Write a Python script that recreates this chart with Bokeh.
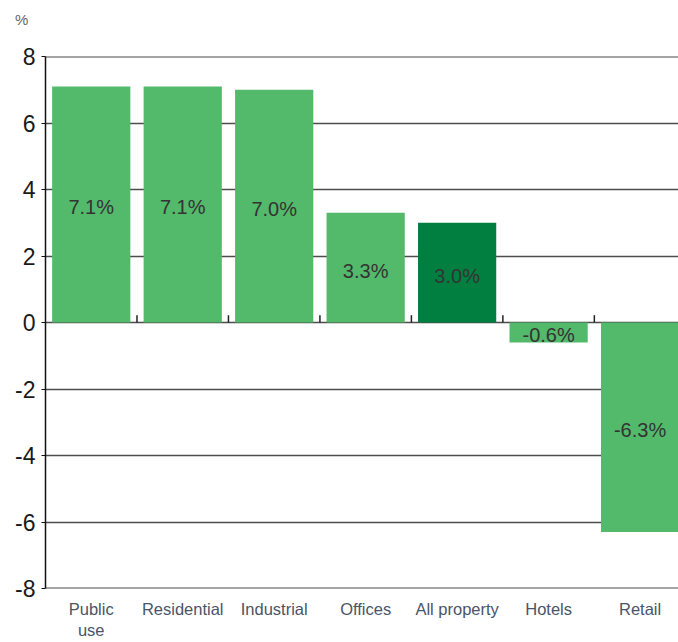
from bokeh.plotting import figure
from bokeh.models import FixedTicker, Span, ColumnDataSource, Div
from bokeh.layouts import column
from bokeh.embed import file_html
from bokeh.resources import INLINE
from bokeh.core.properties import value

# Annual change by property sector, %
categories = ["Public\nuse", "Residential", "Industrial", "Offices", "All property", "Hotels", "Retail"]
growth = [7.1, 7.1, 7.0, 3.3, 3.0, -0.6, -6.3]
highlight = "All property"
y_ticks = [-8, -6, -4, -2, 0, 2, 4, 6, 8]

FONT = "Liberation Sans"
LIGHT = "#53b96b"
DARK = "#007f41"

xs = list(range(len(categories)))
source = ColumnDataSource(dict(
    x=xs,
    top=growth,
    mid=[v / 2 for v in growth],
    label=[f"{v:.1f}%" for v in growth],
    color=[DARK if c == highlight else LIGHT for c in categories],
))

# unit caption above the y axis
unit = Div(text="%", width=60, height=21, margin=(11, 0, 0, 15),
           styles={"font-family": FONT, "font-size": "15px", "color": "#666666",
                   "line-height": "17px"})

p = figure(
    width=678, height=610,
    x_range=(-0.5, len(categories) - 0.58), y_range=(y_ticks[0], y_ticks[-1]),
    output_backend="svg", toolbar_location=None,
    min_border_left=45, min_border_top=24, min_border_bottom=54, min_border_right=0,
    margin=(0, 0, 0, 0),
)
p.outline_line_color = None
p.background_fill_color = "white"
p.border_fill_color = "white"

# horizontal gridlines, with heavier rules at the top and bottom of the scale
p.xgrid.visible = False
p.ygrid.ticker = FixedTicker(ticks=y_ticks[1:-1])
p.ygrid.grid_line_color = "#4d4d4d"
p.ygrid.grid_line_width = 1.7
for edge in (y_ticks[0], y_ticks[-1]):
    p.add_layout(Span(location=edge, dimension="width", line_color="#4d4d4d",
                      line_width=2.2, level="underlay"))

# bars
p.vbar(x="x", top="top", bottom=0, width=0.855, fill_color="color",
       line_color=None, source=source)

# small ticks on the zero line between categories
bounds = [i + 0.5 for i in xs[:-1]]
p.segment(x0=bounds, y0=[0] * len(bounds), x1=bounds, y1=[0.22] * len(bounds),
          line_color="#222222", line_width=1.5)

# value labels inside the bars
p.text(x="x", y="mid", text="label", source=source,
       text_align="center", text_baseline="middle", y_offset=3,
       text_font=value(FONT), text_font_size="20px", text_color="#333333")

# y axis (plain hyphen for negative numbers)
p.yaxis.ticker = FixedTicker(ticks=y_ticks)
p.yaxis.major_label_overrides = {t: str(t) for t in y_ticks}
p.yaxis.axis_line_color = "#111111"
p.yaxis.axis_line_width = 1.5
p.yaxis.major_tick_in = 0
p.yaxis.major_tick_out = 4
p.yaxis.major_tick_line_color = "#111111"
p.yaxis.minor_tick_line_color = None
p.yaxis.major_label_text_font = FONT
p.yaxis.major_label_text_font_size = "23px"
p.yaxis.major_label_text_color = "#1a1a1a"
p.yaxis.major_label_standoff = 6

# x axis with category names
p.xaxis.ticker = FixedTicker(ticks=xs)
p.xaxis.major_label_overrides = {i: c for i, c in zip(xs, categories)}
p.xaxis.axis_line_color = None
p.xaxis.major_tick_line_color = None
p.xaxis.minor_tick_line_color = None
p.xaxis.major_tick_out = 0
p.xaxis.major_label_text_font = FONT
p.xaxis.major_label_text_font_size = "16.5px"
p.xaxis.major_label_text_color = "#4a5468"
p.xaxis.major_label_standoff = 11

layout = column(unit, p, spacing=0)
open("out.html", "w").write(file_html(layout, INLINE))
